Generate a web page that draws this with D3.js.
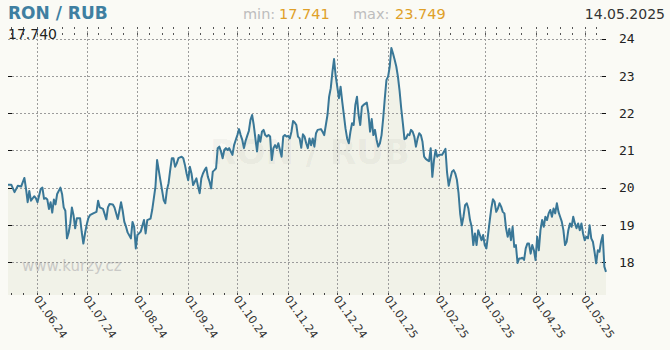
<!DOCTYPE html>
<html>
<head>
<meta charset="utf-8">
<script src="https://cdn.jsdelivr.net/npm/d3@7"></script>
<style>
  html, body { margin: 0; padding: 0; background: #fafaf5; }
  svg { display: block; }
</style>
</head>
<body>
<div id="chart"></div>
<script>
// RON / RUB, daily rate, 14.05.2024 - 14.05.2025
const startDate = "2024-05-14";
const endDate = "2025-05-14";

// day offset from startDate
const dayOffsets = [
  0, 2, 4, 6, 8, 10, 11, 12, 13, 14, 16, 17, 18, 20, 21, 22, 23, 24, 25, 26,
  27, 28, 29, 30, 32, 33, 34, 35, 36, 37, 38, 39, 40, 41, 42, 44, 45, 46, 47, 48,
  49, 50, 52, 54, 55, 56, 58, 60, 61, 62, 64, 65, 67, 68, 69, 70, 71, 72, 73, 75,
  76, 77, 78, 79, 81, 83, 84, 85, 87, 88, 90, 91, 92, 93, 94, 95, 96, 97, 98, 99,
  100, 101, 102, 103, 104, 106, 107, 108, 109, 110, 111, 112, 113, 114, 115, 116, 117, 118, 119, 120,
  121, 122, 123, 124, 125, 126, 127, 128, 129, 130, 131, 132, 133, 134, 135, 136, 137, 138, 139, 140,
  141, 142, 143, 144, 145, 146, 147, 148, 149, 150, 151, 152, 153, 154, 155, 156, 157, 158, 159, 160,
  161, 162, 163, 164, 165, 166, 167, 168, 169, 170, 171, 172, 173, 174, 175, 176, 177, 178, 179, 180,
  181, 182, 183, 184, 185, 186, 187, 188, 189, 191, 192, 193, 194, 195, 196, 197, 198, 199, 200, 201,
  202, 203, 204, 205, 206, 207, 208, 209, 210, 211, 212, 213, 214, 215, 216, 217, 219, 220, 221, 222,
  223, 224, 225, 226, 227, 228, 229, 230, 231, 232, 233, 234, 235, 236, 237, 238, 239, 240, 241, 242,
  243, 244, 245, 246, 247, 248, 249, 250, 251, 252, 253, 254, 255, 256, 257, 258, 259, 260, 261, 262,
  263, 265, 267, 268, 269, 270, 271, 272, 273, 274, 275, 276, 277, 278, 279, 280, 281, 282, 283, 284,
  285, 286, 287, 288, 289, 290, 291, 292, 293, 294, 295, 296, 297, 298, 299, 300, 301, 302, 303, 304,
  305, 306, 307, 308, 309, 310, 311, 312, 313, 314, 315, 316, 317, 318, 319, 320, 321, 322, 323, 324,
  325, 326, 327, 328, 329, 330, 331, 332, 333, 334, 335, 336, 337, 338, 339, 340, 341, 342, 343, 344,
  345, 346, 347, 348, 349, 350, 351, 352, 353, 354, 355, 356, 357, 358, 359, 360, 361, 362, 363, 364,
  365
];

const rates = [
  20.08, 20.08, 19.88, 20.05, 20.03, 20.26, 19.97, 19.61, 19.91, 19.65, 19.77, 19.72, 19.61, 19.97, 20.00, 19.70, 19.72, 19.68, 19.43, 19.61,
  19.33, 19.68, 19.55, 19.83, 20.00, 19.83, 19.47, 19.38, 18.64, 18.79, 19.04, 19.47, 19.26, 18.91, 19.18, 19.18, 18.81, 18.50, 18.77, 19.00,
  19.18, 19.26, 19.31, 19.35, 19.65, 19.47, 19.43, 19.15, 19.47, 19.56, 19.55, 19.47, 19.16, 19.38, 19.61, 19.38, 19.08, 18.96, 18.80, 18.64,
  19.08, 18.95, 18.37, 18.73, 18.82, 19.13, 18.77, 19.13, 19.17, 19.40, 20.03, 20.74, 20.47, 20.20, 19.94, 19.67, 19.58, 19.94, 20.12, 20.47,
  20.79, 20.79, 20.56, 20.65, 20.79, 20.83, 20.79, 20.61, 20.38, 20.20, 20.56, 20.38, 20.07, 20.16, 20.25, 20.03, 19.85, 20.25, 20.38, 20.47,
  20.54, 20.29, 20.16, 19.98, 20.43, 20.47, 20.52, 21.06, 21.10, 20.97, 20.79, 21.01, 21.06, 21.01, 21.06, 20.97, 20.88, 21.14, 21.28, 21.41,
  21.57, 21.41, 21.28, 21.06, 21.25, 21.39, 21.52, 21.82, 21.95, 21.68, 21.32, 20.97, 21.41, 21.23, 21.50, 21.55, 21.41, 21.37, 21.41, 21.37,
  20.74, 21.06, 21.14, 21.06, 21.19, 21.01, 20.83, 21.37, 21.41, 21.37, 21.39, 21.32, 21.50, 21.79, 21.75, 21.68, 21.37, 21.32, 21.07, 21.43,
  21.37, 21.19, 21.06, 21.32, 21.14, 21.32, 21.10, 21.46, 21.55, 21.57, 21.50, 21.41, 21.68, 21.95, 22.44, 22.67, 23.10, 23.45, 23.00, 22.70,
  22.40, 22.71, 22.31, 21.95, 21.59, 21.32, 21.19, 21.50, 21.73, 21.68, 22.22, 22.44, 21.95, 21.68, 22.17, 22.22, 22.28, 21.99, 21.50, 21.84,
  21.41, 21.55, 21.28, 21.10, 21.19, 21.41, 21.86, 22.40, 22.89, 22.98, 23.25, 23.749, 23.60, 23.43, 23.25, 22.98, 22.60, 22.13, 21.73, 21.30,
  21.32, 21.43, 21.41, 21.55, 21.50, 21.37, 21.10, 21.32, 21.46, 21.41, 21.23, 20.83, 20.77, 20.74, 20.71, 21.06, 20.29, 20.74, 21.01, 20.83,
  20.88, 20.88, 21.04, 20.40, 20.05, 20.25, 20.43, 20.47, 20.38, 20.21, 19.85, 19.30, 18.99, 19.22, 19.53, 19.58, 19.44, 19.13, 18.95, 18.46,
  18.77, 18.46, 18.86, 18.73, 18.59, 18.73, 18.46, 18.37, 18.73, 19.10, 19.45, 19.69, 19.62, 19.35, 19.44, 19.58, 19.49, 19.35, 19.31, 18.91,
  18.68, 18.90, 18.59, 18.95, 18.41, 18.46, 17.98, 18.10, 18.10, 18.12, 18.06, 18.37, 18.50, 18.50, 18.23, 18.46, 18.32, 18.06, 18.68, 18.32,
  18.86, 19.13, 18.95, 19.22, 19.13, 19.31, 19.40, 19.22, 19.44, 19.31, 19.58, 19.35, 19.22, 19.09, 18.86, 18.46, 18.55, 18.86, 19.04, 18.95,
  19.22, 19.04, 18.91, 19.04, 18.86, 19.04, 18.77, 18.59, 18.68, 18.64, 18.99, 18.64, 18.55, 18.28, 17.97, 18.32, 18.28, 18.55, 18.73, 17.88,
  17.741
];

const yTicks = [18, 19, 20, 21, 22, 23, 24];
const monthTicks = ["2024-06-01", "2024-07-01", "2024-08-01", "2024-09-01", "2024-10-01", "2024-11-01",
                    "2024-12-01", "2025-01-01", "2025-02-01", "2025-03-01", "2025-04-01", "2025-05-01"];
const minorTickDays = [8, 16, 23];

const titleText = "RON / RUB";
const minText = "17.741";
const maxText = "23.749";
const dateText = "14.05.2025";
const lastText = "17.740";

const width = 670,
    height = 350,
    plot = { left: 8, right: 606, top: 27, bottom: 295 },
    colors = {
        line: "#397797",
        area: "#f1f2e8",
        grid: "#9c9c9c",
        title: "#3f7fa1",
        gold: "#e0a028",
        muted: "#bdbdbd",
        text: "#222"
    };

const parse = d3.utcParse("%Y-%m-%d"),
    fmtTick = d3.utcFormat("%d.%m.%y"),
    t0 = parse(startDate),
    t1 = parse(endDate);

const data = dayOffsets.map((d, i) => ({ date: d3.utcDay.offset(t0, d), value: rates[i] }));

const x = d3.scaleUtc().domain([t0, t1]).range([plot.left, plot.right]);
const y = d3.scaleLinear().domain([17.12, 24.31]).range([plot.bottom, plot.top]);

const svg = d3.select("#chart").append("svg")
    .attr("width", width)
    .attr("height", height)
    .style("font-family", "'DejaVu Sans', Verdana, sans-serif");

svg.append("rect").attr("width", width).attr("height", height).attr("fill", "#fafaf5");

// area under the line
svg.append("path")
    .datum(data)
    .attr("fill", colors.area)
    .attr("d", d3.area().x(d => x(d.date)).y0(plot.bottom).y1(d => y(d.value)));

// watermark
svg.append("text")
    .attr("x", 310)
    .attr("y", 164)
    .attr("text-anchor", "middle")
    .attr("font-size", 34)
    .attr("font-weight", "bold")
    .attr("fill", "#000")
    .attr("fill-opacity", 0.055)
    .text(titleText);

svg.append("text")
    .attr("x", 22)
    .attr("y", 271)
    .attr("font-size", 15)
    .attr("fill", "#c9c9c6")
    .text("www.kurzy.cz");

// horizontal grid
const grid = svg.append("g")
    .attr("stroke", colors.grid)
    .attr("stroke-dasharray", "2 2");

grid.selectAll(".hgrid")
    .data(yTicks)
    .join("line")
    .attr("class", "hgrid")
    .attr("x1", plot.left)
    .attr("x2", plot.right)
    .attr("y1", d => Math.round(y(d)) + 0.5)
    .attr("y2", d => Math.round(y(d)) + 0.5);

const months = monthTicks.map(parse);
grid.selectAll(".vgrid")
    .data(months)
    .join("line")
    .attr("class", "vgrid")
    .attr("x1", d => Math.round(x(d)) + 0.5)
    .attr("x2", d => Math.round(x(d)) + 0.5)
    .attr("y1", plot.top)
    .attr("y2", plot.bottom);

// minor ticks (top and bottom)
const minor = [];
d3.utcMonth.range(d3.utcMonth.floor(t0), t1).forEach(m => {
    minorTickDays.forEach(dd => {
        const t = d3.utcDay.offset(m, dd - 1);
        if (t > t0 && t < t1) minor.push(t);
    });
});

svg.append("g")
    .attr("stroke", "#555")
    .attr("stroke-dasharray", "2 4")
    .selectAll("line")
    .data(minor.concat(months))
    .join("line")
    .attr("x1", d => Math.round(x(d)) + 0.5)
    .attr("x2", d => Math.round(x(d)) + 0.5)
    .attr("y1", plot.top)
    .attr("y2", plot.top + 8);

svg.append("g")
    .attr("stroke", "#444")
    .selectAll("line")
    .data(minor.concat(months))
    .join("line")
    .attr("x1", d => Math.round(x(d)) + 0.5)
    .attr("x2", d => Math.round(x(d)) + 0.5)
    .attr("y1", plot.bottom - 2)
    .attr("y2", plot.bottom);

// y ticks, both sides
svg.append("g")
    .attr("stroke", "#111")
    .selectAll("line")
    .data(yTicks.filter(d => d < 24))
    .join("line")
    .attr("x1", plot.left)
    .attr("x2", plot.left + 4)
    .attr("y1", d => Math.round(y(d)) + 0.5)
    .attr("y2", d => Math.round(y(d)) + 0.5);

svg.append("g")
    .attr("stroke", "#111")
    .selectAll("line")
    .data(yTicks)
    .join("line")
    .attr("x1", plot.right - 4)
    .attr("x2", plot.right)
    .attr("y1", d => Math.round(y(d)) + 0.5)
    .attr("y2", d => Math.round(y(d)) + 0.5);

svg.append("g")
    .selectAll("text")
    .data(yTicks)
    .join("text")
    .attr("x", 619)
    .attr("y", d => y(d))
    .attr("dy", "0.36em")
    .attr("font-family", "'DejaVu Sans Mono', monospace")
    .attr("font-size", 13)
    .attr("fill", colors.text)
    .text(d => d);

// x labels, rotated
svg.append("g")
    .selectAll("text")
    .data(months)
    .join("text")
    .attr("transform", d => `translate(${x(d) - 4},${plot.bottom + 4}) rotate(55)`)
    .attr("font-size", 11)
    .attr("fill", "#333")
    .text(d => fmtTick(d));

// rate line
svg.append("path")
    .datum(data)
    .attr("fill", "none")
    .attr("stroke", colors.line)
    .attr("stroke-width", 2)
    .attr("stroke-linejoin", "round")
    .attr("d", d3.line().x(d => x(d.date)).y(d => y(d.value)));

// header
svg.append("text")
    .attr("x", 8)
    .attr("y", 19)
    .attr("font-size", 17)
    .attr("font-weight", "bold")
    .attr("fill", colors.title)
    .text(titleText);

const info = [
    { x: 243, text: "min:", fill: colors.muted },
    { x: 279, text: minText, fill: colors.gold },
    { x: 353, text: "max:", fill: colors.muted },
    { x: 395, text: maxText, fill: colors.gold }
];
svg.append("g")
    .selectAll("text")
    .data(info)
    .join("text")
    .attr("x", d => d.x)
    .attr("y", 19)
    .attr("font-size", 14.5)
    .attr("fill", d => d.fill)
    .text(d => d.text);

svg.append("text")
    .attr("x", 665)
    .attr("y", 19)
    .attr("text-anchor", "end")
    .attr("font-size", 14)
    .attr("fill", "#333")
    .text(dateText);

svg.append("text")
    .attr("x", 8)
    .attr("y", 39)
    .attr("font-size", 14)
    .attr("fill", colors.text)
    .text(lastText);
</script>
</body>
</html>
